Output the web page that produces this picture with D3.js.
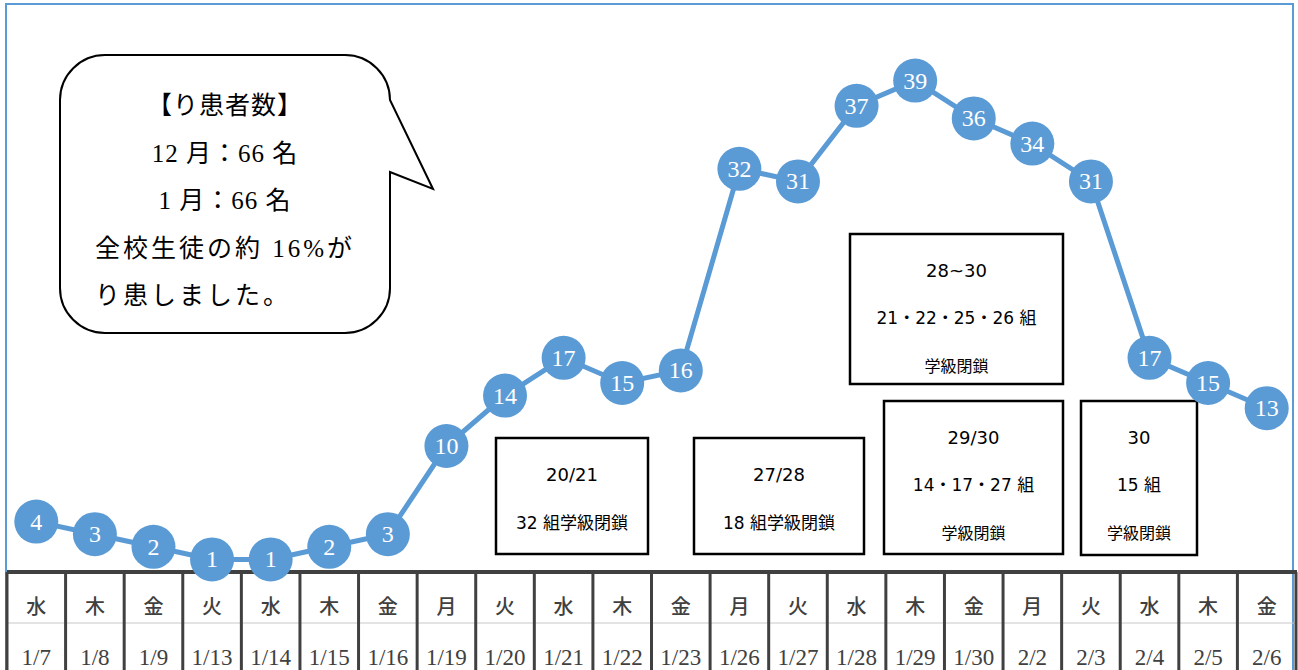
<!DOCTYPE html>
<html>
<head>
<meta charset="utf-8">
<script src="https://cdn.jsdelivr.net/npm/d3@7"></script>
<style>
  body { margin: 0; background: #fff; }
  svg { display: block; }
</style>
</head>
<body>
<svg width="1298" height="670"></svg>
<script>
// 曜日・日付・り患者数
var weekdays = ["水","木","金","火","水","木","金","月","火","水","木","金","月","火","水","木","金","月","火","水","木","金"];
var dates = ["1/7","1/8","1/9","1/13","1/14","1/15","1/16","1/19","1/20","1/21","1/22","1/23","1/26","1/27","1/28","1/29","1/30","2/2","2/3","2/4","2/5","2/6"];
var counts = [4,3,2,1,1,2,3,10,14,17,15,16,32,31,37,39,36,34,31,17,15,13];

// 学級閉鎖のお知らせ
var closures = [
  ["20/21", "32 組学級閉鎖"],
  ["27/28", "18 組学級閉鎖"],
  ["28~30", "21・22・25・26 組", "学級閉鎖"],
  ["29/30", "14・17・27 組", "学級閉鎖"],
  ["30", "15 組", "学級閉鎖"]
];
var note = ["【り患者数】", "12 月：66 名", "1 月：66 名", "全校生徒の約 16%が", "り患しました。"];

var blue = "#5b9bd5";
var dark = "#404040";
var tableTop = 572;

var svg = d3.select("svg");

var x = d3.scaleBand().domain(d3.range(counts.length)).range([7, 1296]);
var y = d3.scaleLinear().domain([0, 40]).range([tableTop, 68]);
function cx(d, i) { return x(i) + x.bandwidth() / 2; }

// frame
svg.append("path")
  .attr("d", "M6,670 L6,4 L1293,4 L1293,670")
  .attr("fill", "none")
  .attr("stroke", blue)
  .attr("stroke-width", 2);

// table of days
var table = svg.append("g");
table.append("line")
  .attr("x1", 7).attr("x2", 1297)
  .attr("y1", 623).attr("y2", 623)
  .attr("stroke", "#c8c8c8").attr("stroke-width", 1);
table.selectAll("line.v")
  .data(d3.range(counts.length + 1))
  .enter()
  .append("line")
  .attr("class", "v")
  .attr("x1", function (d) { return d < counts.length ? x(d) : x(d - 1) + x.bandwidth(); })
  .attr("x2", function (d) { return d < counts.length ? x(d) : x(d - 1) + x.bandwidth(); })
  .attr("y1", tableTop).attr("y2", 670)
  .attr("stroke", dark).attr("stroke-width", 3);
table.append("line")
  .attr("x1", 7).attr("x2", 1297)
  .attr("y1", tableTop).attr("y2", tableTop)
  .attr("stroke", dark).attr("stroke-width", 4);

table.selectAll("text.wd")
  .data(weekdays)
  .enter()
  .append("text")
  .attr("class", "wd")
  .attr("x", cx)
  .attr("y", 605)
  .attr("dominant-baseline", "central")
  .attr("text-anchor", "middle")
  .attr("fill", dark)
  .style("font", "500 20px 'Noto Sans CJK JP'")
  .text(function (d) { return d; });

table.selectAll("text.dt")
  .data(dates)
  .enter()
  .append("text")
  .attr("class", "dt")
  .attr("x", cx)
  .attr("y", 665)
  .attr("text-anchor", "middle")
  .attr("fill", dark)
  .style("font", "23px 'Liberation Serif'")
  .text(function (d) { return d; });

// closure boxes
var boxLayout = [
  {x0: 496, x1: 648, y0: 438, y1: 554, rows: [474, 523], size: [18, 17]},
  {x0: 694, x1: 864, y0: 438, y1: 554, rows: [474, 523], size: [18, 17]},
  {x0: 850, x1: 1063, y0: 234, y1: 384, rows: [270, 318, 366], size: [18, 17, 16]},
  {x0: 884, x1: 1063, y0: 401, y1: 554, rows: [437, 485, 533], size: [18, 17, 16]},
  {x0: 1081, x1: 1197, y0: 401, y1: 555, rows: [437, 485, 533], size: [18, 17, 16]}
];
var boxes = svg.selectAll("g.box")
  .data(closures)
  .enter()
  .append("g")
  .attr("class", "box");
boxes.append("rect")
  .attr("x", function (d, i) { return boxLayout[i].x0; })
  .attr("y", function (d, i) { return boxLayout[i].y0; })
  .attr("width", function (d, i) { return boxLayout[i].x1 - boxLayout[i].x0; })
  .attr("height", function (d, i) { return boxLayout[i].y1 - boxLayout[i].y0; })
  .attr("fill", "#fff")
  .attr("stroke", "#000")
  .attr("stroke-width", 2.5);
boxes.each(function (d, i) {
  var b = boxLayout[i];
  d3.select(this).selectAll("text")
    .data(d)
    .enter()
    .append("text")
    .attr("x", (b.x0 + b.x1) / 2)
    .attr("y", function (t, j) { return b.rows[j]; })
    .attr("dominant-baseline", "central")
    .attr("text-anchor", "middle")
    .style("font-family", "'DejaVu Sans', 'Noto Sans CJK JP'")
    .style("font-size", function (t, j) { return b.size[j] + "px"; })
    .text(function (t) { return t; });
});

// callout
var bx0 = 60, by0 = 55, bx1 = 390, by1 = 333, r = 45;
var p = d3.path();
p.moveTo(bx0 + r, by0);
p.lineTo(bx1 - r, by0);
p.arcTo(bx1, by0, bx1, by0 + r, r);
p.lineTo(bx1, 100);
p.lineTo(433, 189);
p.lineTo(bx1, 172);
p.lineTo(bx1, by1 - r);
p.arcTo(bx1, by1, bx1 - r, by1, r);
p.lineTo(bx0 + r, by1);
p.arcTo(bx0, by1, bx0, by1 - r, r);
p.lineTo(bx0, by0 + r);
p.arcTo(bx0, by0, bx0 + r, by0, r);
p.closePath();
svg.append("path")
  .attr("d", p.toString())
  .attr("fill", "#fff")
  .attr("stroke", "#000")
  .attr("stroke-width", 2);

var noteY = [105, 153, 200, 248, 295];
svg.selectAll("text.note")
  .data(note)
  .enter()
  .append("text")
  .attr("class", "note")
  .attr("x", function (d, i) { return i < 3 ? 225 : 95; })
  .attr("y", function (d, i) { return noteY[i]; })
  .attr("dominant-baseline", "central")
  .attr("text-anchor", function (d, i) { return i < 3 ? "middle" : "start"; })
  .style("font-family", "'Liberation Serif', 'Noto Sans CJK JP'")
  .style("font-size", "25px")
  .style("letter-spacing", function (d, i) { return i < 3 ? "1px" : "3px"; })
  .text(function (d) { return d; });

// line and points
var line = d3.line()
  .x(cx)
  .y(function (d) { return y(d); });
svg.append("path")
  .datum(counts)
  .attr("d", line)
  .attr("fill", "none")
  .attr("stroke", blue)
  .attr("stroke-width", 5);

svg.selectAll("circle.pt")
  .data(counts)
  .enter()
  .append("circle")
  .attr("class", "pt")
  .attr("cx", cx)
  .attr("cy", function (d) { return y(d); })
  .attr("r", 22)
  .attr("fill", blue);

svg.selectAll("text.lbl")
  .data(counts)
  .enter()
  .append("text")
  .attr("class", "lbl")
  .attr("x", cx)
  .attr("y", function (d) { return y(d); })
  .attr("dominant-baseline", "central")
  .attr("text-anchor", "middle")
  .attr("fill", "#fff")
  .style("font", "24px 'Liberation Serif'")
  .text(function (d) { return d; });
</script>
</body>
</html>
